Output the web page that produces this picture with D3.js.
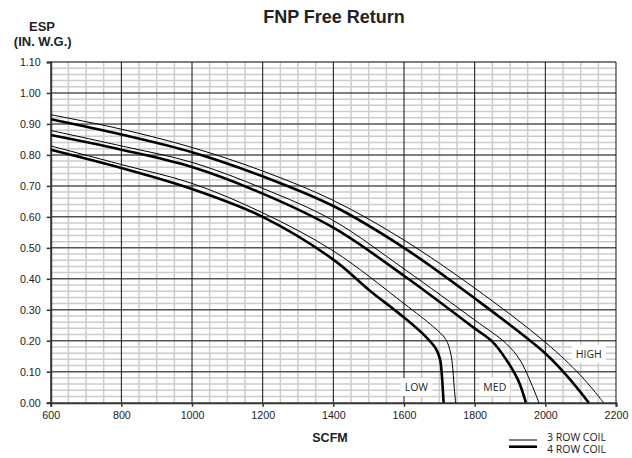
<!DOCTYPE html>
<html><head><meta charset="utf-8">
<script src="https://cdn.jsdelivr.net/npm/d3@7"></script>
<style>body{margin:0;background:#fff}</style>
</head><body><svg id="c" width="632" height="458"></svg>
<script>
const xTicks = [600,800,1000,1200,1400,1600,1800,2000,2200];
const yTicks = [0,0.1,0.2,0.3,0.4,0.5,0.6,0.7,0.8,0.9,1.0,1.1];
const coils = ["3 ROW COIL","4 ROW COIL"];

const high3 = [[600,0.930],[800,0.883],[1000,0.824],[1200,0.748],[1400,0.653],[1600,0.525],[1800,0.370],[2000,0.195],[2100,0.088],[2165,0]];
const high4 = [[600,0.915],[800,0.866],[1000,0.809],[1200,0.731],[1400,0.635],[1600,0.500],[1800,0.337],[2000,0.159],[2060,0.088],[2123,0]];
const med3  = [[600,0.879],[800,0.829],[1000,0.776],[1200,0.692],[1400,0.588],[1600,0.432],[1800,0.267],[1890,0.190],[1928,0.138],[1956,0.073],[1982,0]];
const med4  = [[600,0.864],[800,0.817],[1000,0.761],[1200,0.675],[1400,0.565],[1600,0.410],[1800,0.240],[1852,0.195],[1890,0.138],[1923,0.073],[1945,0]];
const low3  = [[600,0.829],[800,0.769],[1000,0.708],[1200,0.613],[1400,0.490],[1600,0.320],[1683,0.245],[1718,0.205],[1732,0.160],[1738,0.110],[1741,0.065],[1746,0]];
const low4  = [[600,0.817],[800,0.758],[1000,0.690],[1200,0.600],[1400,0.462],[1500,0.365],[1600,0.275],[1660,0.215],[1690,0.175],[1702,0.140],[1707,0.090],[1710,0.040],[1712,0]];

const labels = [["LOW",1635,0.050],["MED",1857,0.052],["HIGH",2123,0.158]];

const svg = d3.select("#c");
const L=50.7, R=616, T=62, B=402.7;
const x = d3.scaleLinear().domain([600,2200]).range([L,R]);
const y = d3.scaleLinear().domain([0,1.1]).range([B,T]);

const g = svg.append("g");
// minor grid
g.selectAll(".vm").data(d3.range(650,2200,50).filter(v=>v%200!==0)).enter().append("line")
 .attr("x1",d=>x(d)).attr("x2",d=>x(d)).attr("y1",y(0)).attr("y2",y(1.1))
 .attr("stroke","#cccccc").attr("stroke-width",1.5);
g.selectAll(".hm").data(d3.range(1,55).filter(i=>i%5!==0).map(i=>i*0.02)).enter().append("line")
 .attr("x1",x(600)).attr("x2",x(2200)).attr("y1",d=>y(d)).attr("y2",d=>y(d))
 .attr("stroke","#cccccc").attr("stroke-width",1.5);
// major grid
g.selectAll(".hM").data(yTicks.slice(1)).enter().append("line")
 .attr("x1",x(600)).attr("x2",x(2200)).attr("y1",d=>y(d)).attr("y2",d=>y(d))
 .attr("stroke","#555").attr("stroke-width",1.5);
g.selectAll(".vM").data(xTicks.slice(1)).enter().append("line")
 .attr("x1",d=>x(d)).attr("x2",d=>x(d)).attr("y1",y(0)).attr("y2",y(1.1))
 .attr("stroke","#111").attr("stroke-width",1);

// axes
const xa = svg.append("g").attr("transform",`translate(0,${B})`)
 .call(d3.axisBottom(x).tickValues(xTicks).tickSize(4).tickPadding(5).tickFormat(d3.format("d")));
const ya = svg.append("g").attr("transform",`translate(${L},0)`)
 .call(d3.axisLeft(y).tickValues(yTicks).tickSize(4).tickPadding(6).tickFormat(d3.format(".2f")));
[xa,ya].forEach(a=>{
  a.select(".domain").attr("stroke","#333").attr("stroke-width",2);
  a.selectAll(".tick line").attr("stroke","#333").attr("stroke-width",1.5);
  a.selectAll("text").attr("font-family","Liberation Sans, Arial, sans-serif").attr("font-size",10.7).attr("fill","#222");
});

// curves
const line = d3.line().x(d=>x(d[0])).y(d=>y(d[1])).curve(d3.curveCatmullRom.alpha(0.5));
[[high3,1],[med3,1],[low3,1],[high4,2.6],[med4,2.6],[low4,2.6]].forEach(([d,w])=>{
  svg.append("path").datum(d).attr("d",line).attr("fill","none").attr("stroke","#000").attr("stroke-width",w);
});

// speed labels
labels.forEach(([t,vx,vy])=>{
  const tx = svg.append("text").attr("x",x(vx)).attr("y",y(vy)+4).attr("text-anchor","middle")
   .attr("font-family","Open Sans, sans-serif").attr("font-size",10.5).attr("fill","#222").text(t);
  const bb = tx.node().getBBox();
  svg.insert("rect", () => tx.node()).attr("x",bb.x-4).attr("y",bb.y-2).attr("width",bb.width+8).attr("height",bb.height+4).attr("fill","#fff");
});

// titles
const bold = "Liberation Sans, Arial, sans-serif";
svg.append("text").attr("x",334).attr("y",22.5).attr("text-anchor","middle").attr("font-family",bold)
 .attr("font-weight","bold").attr("font-size",18).attr("fill","#222").text("FNP Free Return");
svg.append("text").attr("x",42).attr("y",30.7).attr("text-anchor","middle").attr("font-family",bold)
 .attr("font-weight","bold").attr("font-size",13).attr("fill","#222").text("ESP");
svg.append("text").attr("x",42.7).attr("y",46.3).attr("text-anchor","middle").attr("font-family",bold)
 .attr("font-weight","bold").attr("font-size",13).attr("fill","#222").text("(IN. W.G.)");
svg.append("text").attr("x",330).attr("y",442).attr("text-anchor","middle").attr("font-family",bold)
 .attr("font-weight","bold").attr("font-size",12.5).attr("fill","#222").text("SCFM");

// legend
coils.forEach((c,i)=>{
  const ly = 440 + i*6.7;
  svg.append("line").attr("x1",509).attr("x2",537).attr("y1",ly).attr("y2",ly).attr("stroke","#000").attr("stroke-width",i?2.6:1);
  svg.append("text").attr("x",547).attr("y",440.5 + i*12.5).attr("font-family","Open Sans, sans-serif").attr("font-size",10.5).attr("fill","#222").text(c);
});
</script></body></html>
